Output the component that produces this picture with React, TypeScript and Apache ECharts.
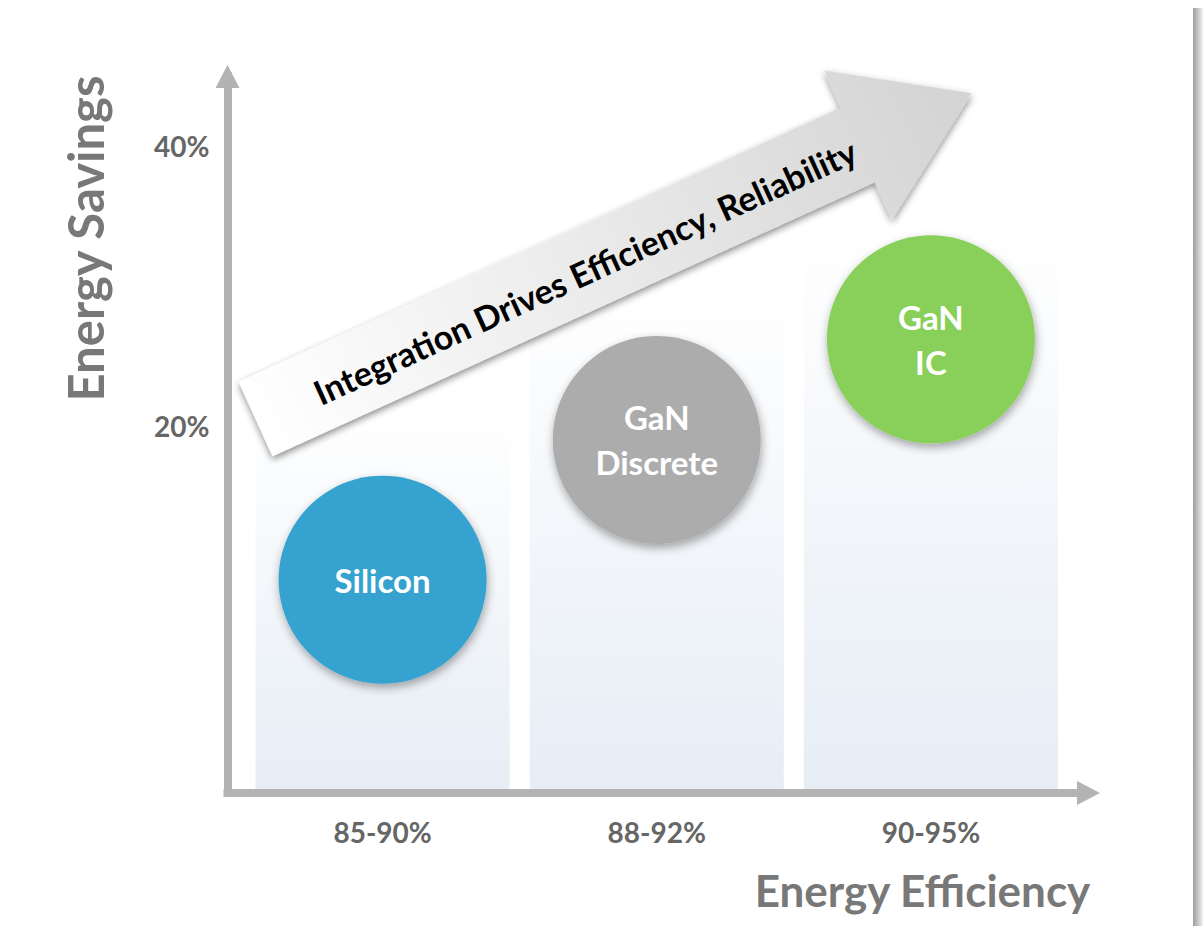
import React, { useEffect, useRef } from "react";
import * as echarts from "echarts";

// Efficiency classes along the horizontal axis
const efficiencyBands = ["85-90%", "88-92%", "90-95%"];
// Power technologies and the energy savings (%) each one reaches
const technologies = ["Silicon", "GaN\nDiscrete", "GaN\nIC"];
const energySavings = [9, 19, 26.2];
const bubbleColors = ["#36a2cf", "#acacac", "#89d05a"];
// Height (%) of the shaded column behind each efficiency class
const bandTops = [21, 30, 34];
// Labelled values on the savings axis
const savingsTicks = [20, 40];
const trendText = "Integration Drives Efficiency, Reliability";

// Axis extents (the axes run a little past the data on both ends)
const X_MIN = -0.5657;
const X_MAX = 2.5748;
const Y_MIN = -6.26;
const Y_MAX = 45;

const FONT = "Lato, 'Open Sans', sans-serif";
const AXIS_GRAY = "#b3b3b3";

export default function App() {
  const ref = useRef<HTMLDivElement>(null);

  useEffect(() => {
    if (!ref.current) return;
    const chart = echarts.init(ref.current, null, { renderer: "svg" });

    const bandFill = new echarts.graphic.LinearGradient(0, 0, 0, 1, [
      { offset: 0, color: "#ffffff" },
      { offset: 1, color: "#e6edf5" },
    ]);

    const arrowFill = new echarts.graphic.LinearGradient(0, 0, 1, 0, [
      { offset: 0, color: "#ffffff" },
      { offset: 1, color: "#d3d3d3" },
    ]);

    // trend arrow geometry, in its own rotated frame
    const arrowLen = 787;
    const headLen = 125;
    const shaftHalf = 41;
    const headHalf = 82;

    const axisLine = {
      show: true,
      onZero: false,
      symbol: ["none", "triangle"],
      symbolSize: [24, 23],
      lineStyle: { color: AXIS_GRAY, width: 8, cap: "square" as const },
    };

    const option: echarts.EChartsOption = {
      animation: false,
      backgroundColor: "#ffffff",
      grid: { left: 227.5, right: 1203 - 1088.5, top: 76.5, bottom: 926 - 793 },
      xAxis: {
        type: "value",
        min: X_MIN,
        max: X_MAX,
        z: 4,
        splitLine: { show: false },
        axisTick: { show: false },
        axisLine,
        axisLabel: {
          customValues: [0, 1, 2],
          formatter: (v: number) => efficiencyBands[Math.round(v)] ?? "",
          margin: 25,
          color: "#666666",
          fontFamily: FONT,
          fontWeight: "bold",
          fontSize: 28,
        },
      },
      yAxis: {
        type: "value",
        min: Y_MIN,
        max: Y_MAX,
        z: 4,
        splitLine: { show: false },
        axisTick: { show: false },
        axisLine,
        axisLabel: {
          customValues: savingsTicks,
          formatter: "{value}%",
          margin: 18,
          color: "#666666",
          fontFamily: FONT,
          fontWeight: "bold",
          fontSize: 28,
        },
      },
      series: [
        {
          type: "custom",
          silent: true,
          z: 1,
          data: bandTops.map((top, i) => [i, top]),
          renderItem: (params: any, api: any) => {
            const i = api.value(0);
            const top = api.value(1);
            const unit = api.size([1, 0])[0];
            const w = unit * 0.927;
            const p0 = api.coord([i, top]);
            const p1 = api.coord([i, Y_MIN]);
            return {
              type: "rect",
              shape: { x: p0[0] - w / 2, y: p0[1], width: w, height: p1[1] - p0[1] },
              style: { fill: bandFill },
            };
          },
        },
        {
          type: "scatter",
          z: 5,
          symbolSize: 208,
          data: energySavings.map((v, i) => ({
            value: [i, v],
            name: technologies[i],
            itemStyle: { color: bubbleColors[i] },
          })),
          itemStyle: {
            opacity: 1,
            shadowColor: "rgba(0,0,0,0.35)",
            shadowBlur: 10,
            shadowOffsetX: 1,
            shadowOffsetY: 4,
          },
          label: {
            show: true,
            position: "inside",
            formatter: "{b}",
            color: "#ffffff",
            fontFamily: FONT,
            fontWeight: "bold",
            fontSize: 33,
            lineHeight: 45,
          },
          emphasis: { disabled: true },
        },
      ],
      graphic: [
        {
          type: "group",
          x: 255.5,
          y: 419,
          rotation: (24.47 * Math.PI) / 180,
          z: 10,
          children: [
            {
              type: "polygon",
              z: 10,
              shape: {
                points: [
                  [0, -shaftHalf],
                  [arrowLen - headLen, -shaftHalf],
                  [arrowLen - headLen, -headHalf],
                  [arrowLen, 0],
                  [arrowLen - headLen, headHalf],
                  [arrowLen - headLen, shaftHalf],
                  [0, shaftHalf],
                ],
              },
              style: {
                fill: arrowFill,
                shadowColor: "rgba(0,0,0,0.45)",
                shadowBlur: 7,
                shadowOffsetX: -1,
                shadowOffsetY: 3,
              },
            },
            {
              type: "text",
              z: 11,
              x: 361,
              y: 2,
              style: {
                text: trendText,
                fill: "#000000",
                fontFamily: FONT,
                fontWeight: "bold",
                fontSize: 34,
                align: "center",
                verticalAlign: "middle",
              },
            },
          ],
        },
        {
          type: "text",
          x: 85,
          y: 238.5,
          rotation: Math.PI / 2,
          z: 10,
          style: {
            text: "Energy Savings",
            fill: "#787878",
            fontFamily: FONT,
            fontWeight: "bold",
            fontSize: 49,
            align: "center",
            verticalAlign: "middle",
            shadowColor: "rgba(0,0,0,0.35)",
            shadowBlur: 4,
            shadowOffsetX: 2,
            shadowOffsetY: 3,
          },
        },
        {
          type: "text",
          x: 922.5,
          y: 890,
          z: 10,
          style: {
            text: "Energy Efficiency",
            fill: "#787878",
            fontFamily: FONT,
            fontWeight: "bold",
            fontSize: 44,
            align: "center",
            verticalAlign: "middle",
            shadowColor: "rgba(0,0,0,0.35)",
            shadowBlur: 4,
            shadowOffsetX: 2,
            shadowOffsetY: 3,
          },
        },
        {
          type: "rect",
          z: 10,
          shape: { x: 1193, y: 8, width: 10, height: 918 },
          style: {
            fill: new echarts.graphic.LinearGradient(0, 0, 1, 0, [
              { offset: 0, color: "#9c9c9c" },
              { offset: 1, color: "#f2f2f2" },
            ]),
          },
        },
      ],
    };

    chart.setOption(option);
    return () => chart.dispose();
  }, []);

  return (
    <div
      ref={ref}
      style={{ position: "absolute", left: 0, top: 0, width: 1203, height: 926 }}
    />
  );
}
